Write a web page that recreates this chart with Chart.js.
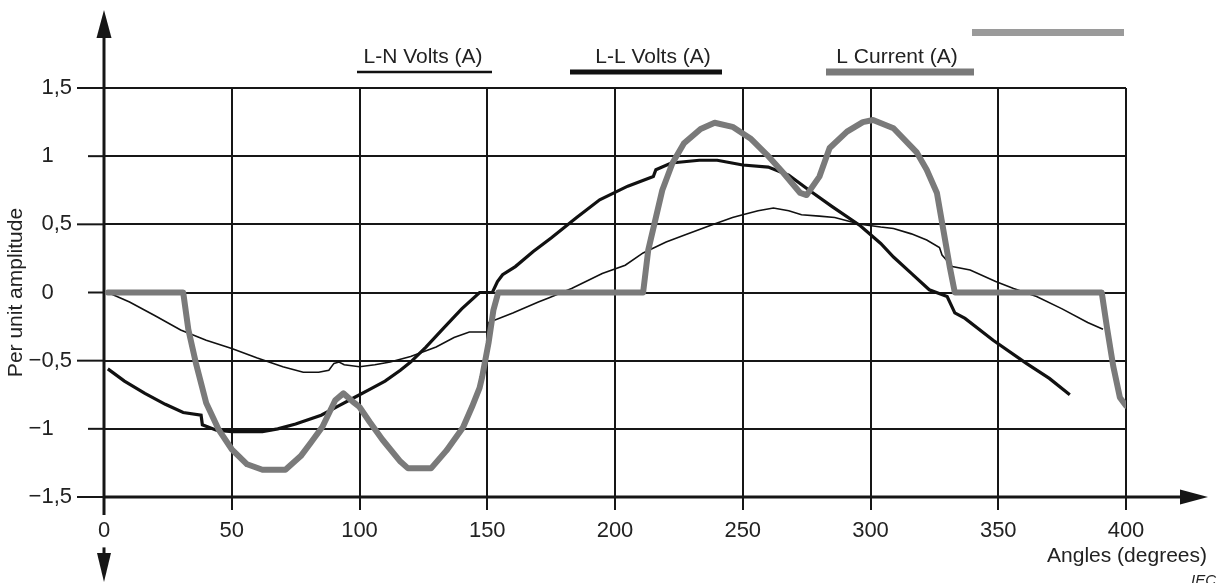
<!DOCTYPE html>
<html>
<head>
<meta charset="utf-8">
<title>Per unit amplitude vs angle</title>
<script src="https://cdn.jsdelivr.net/npm/chart.js@4.4.0/dist/chart.umd.min.js"></script>
<style>
    html, body { margin: 0; padding: 0; background: #fff; }
</style>
</head>
<body>
<canvas id="waveChart" width="1225" height="583"></canvas>
<script>
// Data
const lnAngles = [1.5, 10, 20, 30, 40, 50, 60, 70, 78, 84, 88, 90, 92, 94, 100, 106, 112, 120, 130, 137, 143, 150, 150.5,
    160, 170, 174, 183, 195, 204, 211, 220, 227, 237, 246, 250, 256, 262, 268, 273, 280, 286, 296, 304, 309, 316, 322,
    327, 328, 332, 339, 349, 356, 365, 375, 385, 391];
const lnValues = [0, -0.07, -0.17, -0.275, -0.35, -0.41, -0.48, -0.545, -0.585, -0.585, -0.57, -0.52, -0.51, -0.53, -0.545,
    -0.53, -0.51, -0.47, -0.4, -0.33, -0.29, -0.29, -0.22, -0.15, -0.07, -0.04, 0.03, 0.14, 0.2, 0.29, 0.37, 0.42, 0.49,
    0.55, 0.57, 0.6, 0.62, 0.6, 0.57, 0.56, 0.55, 0.5, 0.48, 0.47, 0.43, 0.385, 0.33, 0.275, 0.19, 0.165, 0.08, 0.03,
    -0.03, -0.12, -0.22, -0.27];

const llAngles = [1.5, 8, 16, 24, 31, 38, 38.5, 44, 50, 62, 68, 75, 85, 92, 98, 104, 110, 116, 120, 126, 133, 140, 147, 152,
    154, 156, 161, 168, 175, 185, 194, 205, 215, 216, 222, 233, 240, 250, 260, 268, 276, 285, 296, 304, 309, 316, 323,
    330, 333, 337, 348, 361, 370, 378];
const llValues = [-0.56, -0.65, -0.74, -0.82, -0.88, -0.9, -0.97, -1.01, -1.02, -1.02, -1.0, -0.965, -0.9, -0.83, -0.77,
    -0.71, -0.65, -0.57, -0.51, -0.4, -0.26, -0.12, 0.0, 0.0, 0.08, 0.13, 0.19, 0.3, 0.4, 0.55, 0.68, 0.78, 0.85, 0.9,
    0.95, 0.97, 0.97, 0.935, 0.92, 0.86, 0.75, 0.63, 0.49, 0.36, 0.26, 0.14, 0.02, -0.03, -0.15, -0.19, -0.35, -0.52,
    -0.63, -0.75];

const curAngles = [1.5, 31, 33, 36, 40, 45, 50, 56, 62, 71, 77, 81, 85.5, 90.5, 93.7, 98, 100, 104, 109, 116, 119, 128, 134,
    140.5, 144, 147, 148, 150.5, 152.4, 154.3, 211, 213, 216, 218.5, 222.5, 227, 233.5, 239, 246, 253, 259.5, 266,
    272.5, 275, 280, 284, 290.8, 297, 301, 309, 318, 322, 326, 328.5, 331, 333, 390.5, 392.5, 395, 397.6, 400];
const curValues = [0, 0, -0.27, -0.52, -0.81, -1.01, -1.15, -1.26, -1.3, -1.3, -1.2, -1.1, -0.985, -0.79, -0.74, -0.81,
    -0.84, -0.95, -1.08, -1.24, -1.29, -1.29, -1.16, -0.99, -0.84, -0.7, -0.62, -0.37, -0.13, 0, 0, 0.31, 0.55, 0.75,
    0.95, 1.095, 1.2, 1.245, 1.215, 1.13, 1.01, 0.875, 0.73, 0.715, 0.85, 1.06, 1.18, 1.25, 1.265, 1.205, 1.03, 0.9,
    0.73, 0.46, 0.19, 0, 0, -0.25, -0.54, -0.77, -0.83];

const seriesLabels = ['L-N Volts (A)', 'L-L Volts (A)', 'L Current (A)'];
const xTicks = [0, 50, 100, 150, 200, 250, 300, 350, 400];
const yTicks = [-1.5, -1, -0.5, 0, 0.5, 1, 1.5];

const FONT = 'Liberation Sans, Arial, sans-serif';
const INK = '#161616';
const TEXT = '#222';

function toPoints(xs, ys) {
    return xs.map((x, i) => ({ x: x, y: ys[i] }));
}

// 1,5 / 0 / -0,5 style labels, integers padded so they line up on the comma
function formatY(v) {
    const s = (v < 0 ? '\u2212' : '') + String(Math.abs(v)).replace('.', ',');
    return Number.isInteger(v) ? s + '\u2008\u2007' : s;
}

// Legend placement (text centre, underline start/end, underline width)
const legendCenters = [423, 653, 897];
const legendLineFrom = [357, 570, 826];
const legendLineTo = [492, 722, 974];
const legendLineWidth = [2.5, 5, 7];

function strokeLine(ctx, x1, y1, x2, y2) {
    ctx.beginPath();
    ctx.moveTo(x1, y1);
    ctx.lineTo(x2, y2);
    ctx.stroke();
}

function fillTri(ctx, pts) {
    ctx.beginPath();
    ctx.moveTo(pts[0], pts[1]);
    ctx.lineTo(pts[2], pts[3]);
    ctx.lineTo(pts[4], pts[5]);
    ctx.closePath();
    ctx.fill();
}

const decorations = {
    id: 'decorations',
    beforeDraw(chart) {
        const { ctx, chartArea, scales } = chart;
        const x0 = chartArea.left;
        const y0 = chartArea.bottom;
        ctx.save();
        ctx.fillStyle = '#fff';
        ctx.fillRect(0, 0, chart.width, chart.height);

        ctx.strokeStyle = INK;
        ctx.fillStyle = INK;
        ctx.lineWidth = 3;
        // vertical axis with both arrows
        strokeLine(ctx, x0, 32, x0, 558);
        fillTri(ctx, [x0, 10, x0 - 7.5, 38, x0 + 7.5, 38]);
        fillTri(ctx, [x0, 582, x0 - 7, 553, x0 + 7, 553]);
        // horizontal axis with arrow
        strokeLine(ctx, x0, y0, 1185, y0);
        fillTri(ctx, [1208, y0, 1180, y0 - 7.5, 1180, y0 + 7.5]);

        // tick stubs left of the y axis
        ctx.lineWidth = 2;
        yTicks.forEach(v => {
            const py = scales.y.getPixelForValue(v);
            const len = Number.isInteger(v) ? 16 : 27;
            strokeLine(ctx, x0 - len, py, x0, py);
        });
        ctx.restore();
    },
    afterDraw(chart) {
        const { ctx } = chart;
        ctx.save();
        // legend: label above a sample of each line
        ctx.font = '21px ' + FONT;
        ctx.textAlign = 'center';
        ctx.textBaseline = 'alphabetic';
        chart.data.datasets.forEach((ds, i) => {
            ctx.fillStyle = TEXT;
            ctx.fillText(ds.label, legendCenters[i], 63);
            ctx.strokeStyle = ds.borderColor;
            ctx.lineWidth = legendLineWidth[i];
            strokeLine(ctx, legendLineFrom[i], 72, legendLineTo[i], 72);
        });

        // grey bar top right
        ctx.fillStyle = '#9a9a9a';
        ctx.fillRect(972, 29, 152, 7);

        // x axis caption and source mark
        ctx.fillStyle = TEXT;
        ctx.textAlign = 'right';
        ctx.fillText('Angles (degrees)', 1207, 562);
        ctx.font = 'italic 15px ' + FONT;
        ctx.fillText('IEC', 1216, 585);
        ctx.restore();
    }
};

const ctx = document.getElementById('waveChart').getContext('2d');
new Chart(ctx, {
    type: 'scatter',
    data: {
        datasets: [
            {
                label: seriesLabels[0],
                data: toPoints(lnAngles, lnValues),
                showLine: true,
                borderColor: '#111',
                borderWidth: 1.6,
                pointRadius: 0,
                order: 3
            },
            {
                label: seriesLabels[1],
                data: toPoints(llAngles, llValues),
                showLine: true,
                borderColor: '#111',
                borderWidth: 3.2,
                pointRadius: 0,
                order: 2
            },
            {
                label: seriesLabels[2],
                data: toPoints(curAngles, curValues),
                showLine: true,
                borderColor: '#7a7a7a',
                borderWidth: 6,
                borderJoinStyle: 'round',
                borderCapStyle: 'round',
                pointRadius: 0,
                order: 1
            }
        ]
    },
    options: {
        responsive: false,
        animation: false,
        devicePixelRatio: 1,
        layout: {
            padding: { left: 0, right: 99, top: 88, bottom: 0 }
        },
        plugins: {
            legend: { display: false },
            tooltip: { enabled: false }
        },
        scales: {
            x: {
                type: 'linear',
                min: 0,
                max: 400,
                afterFit(scale) { scale.height = 86; },
                afterBuildTicks(scale) { scale.ticks = xTicks.map(v => ({ value: v })); },
                grid: { color: INK, lineWidth: 2, drawTicks: true, tickLength: 13, tickColor: INK },
                border: { display: false },
                ticks: {
                    padding: 8,
                    autoSkip: false,
                    maxRotation: 0,
                    color: TEXT,
                    font: { family: FONT, size: 22 },
                    showLabelBackdrop: true,
                    backdropPadding: 3,
                    backdropColor: c => (c.index === 0 ? '#fff' : 'rgba(0,0,0,0)')
                }
            },
            y: {
                type: 'linear',
                min: -1.5,
                max: 1.5,
                afterFit(scale) { scale.width = 104; },
                afterBuildTicks(scale) { scale.ticks = yTicks.map(v => ({ value: v })); },
                grid: { color: INK, lineWidth: 2, drawTicks: false },
                border: { display: false },
                ticks: {
                    padding: 32,
                    color: TEXT,
                    font: { family: FONT, size: 22 },
                    callback: v => formatY(v)
                },
                title: {
                    display: true,
                    text: 'Per unit amplitude',
                    color: TEXT,
                    font: { family: FONT, size: 21 },
                    padding: { top: 4, bottom: 0 }
                }
            }
        }
    },
    plugins: [decorations]
});
</script>
</body>
</html>
